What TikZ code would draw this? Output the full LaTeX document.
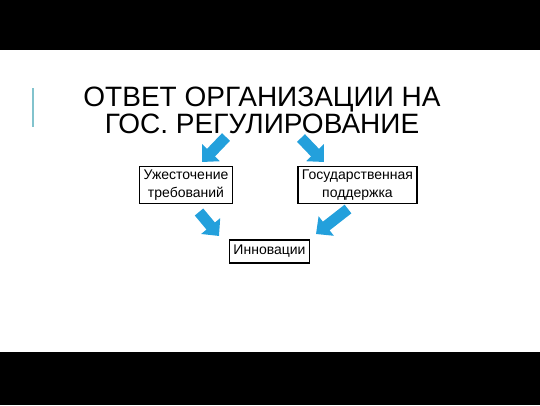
\documentclass[tikz,border=0pt]{standalone}
\usepackage{fontspec}
\setmainfont{Liberation Sans}
\usetikzlibrary{positioning,arrows.meta}
\definecolor{arrblue}{RGB}{35,160,220}
\definecolor{barteal}{RGB}{130,195,205}

\begin{document}
\begin{tikzpicture}[x=1pt,y=-1pt,on grid,
	box/.style={draw=black,line width=1.2pt,align=center,font=\fontsize{14}{18}\selectfont,inner xsep=4pt},
	fat/.style={line width=11pt,draw=arrblue,-{Triangle[length=13pt,width=24pt]}}]
\useasboundingbox (0,0) rectangle (540,405);
\fill[black] (0,0) rectangle (540,50);
\fill[black] (0,352) rectangle (540,405);
\draw[barteal,line width=2pt] (33,88) -- (33,127);

\node[align=center,font=\fontsize{28}{27}\selectfont]	(title)		at (262,110)								{ОТВЕТ ОРГАНИЗАЦИИ НА\\ГОС. РЕГУЛИРОВАНИЕ};
\node[box,minimum height=36pt]						(tighten)	at (186,185)								{Ужесточение\\требований};
\node[box,minimum height=36pt]						(support)	[right=171.5pt of tighten]					{Государственная\\поддержка};
\node[box,minimum height=23pt]						(innov)		[below right=66.5pt and 83.5pt of tighten]	{Инновации};

\coordinate (a_1s) at (226,137);	\coordinate (a_1e) at (202,162);
\coordinate (a_2s) at (301,138);	\coordinate (a_2e) at (324,162);
\coordinate (a_3s) at (199,212);	\coordinate (a_3e) at (219,236);
\coordinate (a_4s) at (348,209);	\coordinate (a_4e) at (316,234);
\path
(a_1s)		edge[fat]		(a_1e)
(a_2s)		edge[fat]		(a_2e)
(a_3s)		edge[fat]		(a_3e)
(a_4s)		edge[fat]		(a_4e)
;
\end{tikzpicture}
\end{document}
